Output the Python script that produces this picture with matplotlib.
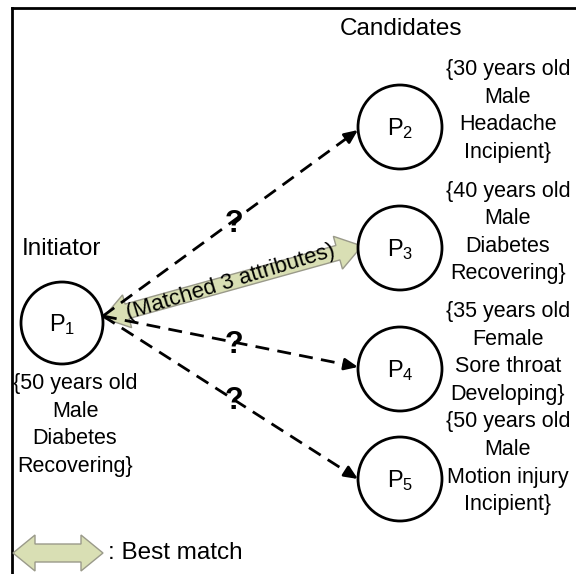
import numpy as np
import matplotlib.pyplot as plt
from matplotlib.patches import Circle, Polygon

plt.rcParams['font.family'] = ['Liberation Sans', 'DejaVu Sans']
plt.rcParams['mathtext.fontset'] = 'custom'
plt.rcParams['mathtext.rm'] = 'Liberation Sans'

# nodes and their attribute labels
initiator = r'$\mathregular{P_1}$'
initiator_attrs = ['{50 years old', 'Male', 'Diabetes', 'Recovering}']
candidates = [r'$\mathregular{P_2}$', r'$\mathregular{P_3}$', r'$\mathregular{P_4}$', r'$\mathregular{P_5}$']
candidate_attrs = [
    ['{30 years old', 'Male', 'Headache', 'Incipient}'],
    ['{40 years old', 'Male', 'Diabetes', 'Recovering}'],
    ['{35 years old', 'Female', 'Sore throat', 'Developing}'],
    ['{50 years old', 'Male', 'Motion injury', 'Incipient}'],
]
best_match = 1  # index of P3
match_label = '(Matched 3 attributes)'

FILL = '#d9dfb4'
EDGE = '#9a9a8a'


def double_arrow(ax, p0, p1, shaft=15, head_w=34, head_l=25):
    p0, p1 = np.array(p0, float), np.array(p1, float)
    d = p1 - p0
    L = np.hypot(*d)
    u = d / L
    n = np.array([-u[1], u[0]])
    a = p0 + u * head_l
    b = p1 - u * head_l
    pts = [p0, a + n * head_w / 2, a + n * shaft / 2, b + n * shaft / 2,
           b + n * head_w / 2, p1, b - n * head_w / 2, b - n * shaft / 2,
           a - n * shaft / 2, a - n * head_w / 2]
    ax.add_patch(Polygon(pts, closed=True, facecolor=FILL, edgecolor=EDGE, lw=1, zorder=2))


def dashed_arrow(ax, p0, p1):
    p0, p1 = np.array(p0, float), np.array(p1, float)
    u = (p1 - p0) / np.hypot(*(p1 - p0))
    tip_base = p1 - u * 14
    ax.plot([p0[0], tip_base[0]], [p0[1], tip_base[1]], color='black', lw=2,
            dashes=(5, 3), zorder=3)
    ax.annotate('', xy=p1, xytext=tip_base,
                arrowprops=dict(arrowstyle='-|>,head_length=0.8,head_width=0.35',
                                color='black', lw=2, shrinkA=0, shrinkB=0), zorder=4)


fig = plt.figure(figsize=(5.76, 5.74), dpi=100)
ax = fig.add_axes([0, 0, 1, 1])
ax.set_xlim(0, 576)
ax.set_ylim(574, 0)
ax.axis('off')

# frame (left and top only)
ax.plot([12, 12], [574, 8], color='black', lw=2)
ax.plot([12, 576], [8, 8], color='black', lw=2)

fs = 15.5
r = 41
p1 = (62, 323)
cand_y = [127, 248, 369, 479]
cand_x = 400

ax.add_patch(Circle(p1, r, facecolor='white', edgecolor='black', lw=2, zorder=5))
ax.text(p1[0], p1[1] + 2, initiator, ha='center', va='center', fontsize=17, zorder=6)
ax.text(22, 249, 'Initiator', ha='left', va='center', fontsize=17.5)
for i, line in enumerate(initiator_attrs):
    ax.text(75, 384 + i * 27.5, line, ha='center', va='center', fontsize=fs)

ax.text(401, 29, 'Candidates', ha='center', va='center', fontsize=17.5)

start = (103, 316)
for k, (name, attrs, y) in enumerate(zip(candidates, candidate_attrs, cand_y)):
    ax.add_patch(Circle((cand_x, y), r + 1, facecolor='white', edgecolor='black', lw=2, zorder=5))
    ax.text(cand_x, y + 2, name, ha='center', va='center', fontsize=17, zorder=6)
    for i, line in enumerate(attrs):
        ax.text(508, y - 57 + i * 27.5, line, ha='center', va='center', fontsize=fs)
    end = (cand_x - r - 1, y + (3 if k == 0 else -2 if k == 2 else 0))
    if k == best_match:
        tip = (cand_x - r + 3, y - 2)
        double_arrow(ax, (start[0], start[1] + 2), tip)
        ang = np.degrees(np.arctan2(start[1] + 2 - tip[1], tip[0] - start[0]))
        ax.text(231, 282, match_label, ha='center', va='center', fontsize=16,
                rotation=ang + 1.5, rotation_mode='anchor', zorder=7)
    else:
        dashed_arrow(ax, start, end)

# question marks
for qx, qy in [(234, 224), (234, 345), (234, 401)]:
    ax.text(qx, qy, '?', ha='center', va='center', fontsize=22, fontweight='bold', zorder=7)

# legend
double_arrow(ax, (13, 553), (103, 553), shaft=18, head_w=36, head_l=22)
ax.text(108, 553, ': Best match', ha='left', va='center', fontsize=17.5)

fig.savefig('out.png', dpi=100)
